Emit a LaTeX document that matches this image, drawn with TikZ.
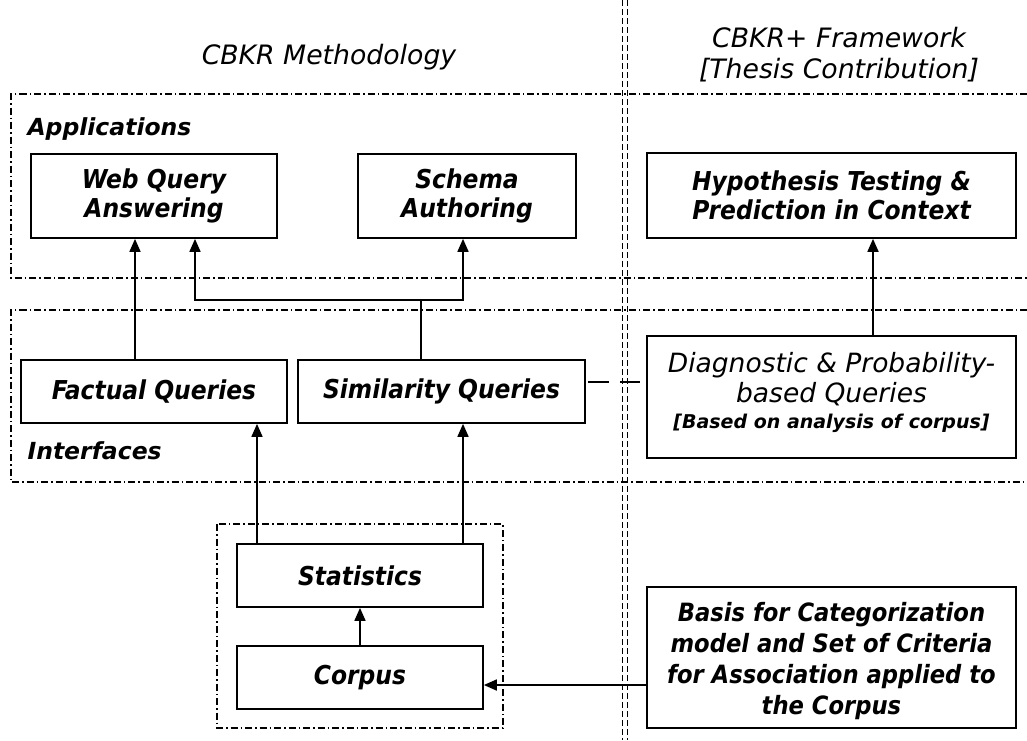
\documentclass[tikz,border=0pt]{standalone}
\usepackage{fontspec}
\setmainfont{DejaVu Sans}
\newfontfamily\condfont{DejaVu Sans Condensed}
\usetikzlibrary{arrows.meta}
\tikzset{
  box/.style={draw, line width=1.7pt, minimum width=#1, align=center, inner sep=0pt},
  boxtext/.style={font=\condfont\bfseries\itshape\fontsize{26}{29}\selectfont},
  region/.style={line width=1.3pt, dash pattern=on 7pt off 3pt on 1.5pt off 3pt},
  divider/.style={line width=1.6pt, dash pattern=on 6pt off 3pt},
  conn/.style={line width=1.7pt},
  arr/.style={conn, -{Triangle[length=13pt,width=11pt]}},
  title/.style={font=\itshape\fontsize{26.7}{31}\selectfont, align=center},
  lbl/.style={font=\bfseries\itshape\fontsize{23.5}{28}\selectfont, anchor=west},
  intext/.style={align=center, inner sep=0pt},
}
\begin{document}
\begin{tikzpicture}[x=1pt,y=-1pt]
\useasboundingbox (0,0) rectangle (1027,740);
% titles
\node[title] (t1) at (329,57) {CBKR Methodology};
\node[title] (t2) at (839,55) {CBKR+ Framework\\{}[Thesis Contribution]};
% divider
\draw[divider] (622.5,0) -- (622.5,740);
\draw[divider] (627.5,0) -- (627.5,740);
% regions
\draw[region] (1027,94) -- (11,94) -- (11,278) -- (1027,278);
\draw[region] (1027,310) -- (11,310) -- (11,482) -- (1027,482);
\draw[region] (217,524) rectangle (503,728);
\node[lbl] (apps) at (24,129) {Applications};
\node[lbl] (intf) at (24,451) {Interfaces};
% boxes
\node[box=246pt, minimum height=84pt, boxtext] (web) at (154,196) {Web Query\\Answering};
\node[box=218pt, minimum height=84pt, boxtext] (schema) at (467,196) {Schema\\Authoring};
\node[box=369pt, minimum height=85pt, boxtext] (hyp) at (831.5,195.5) {Hypothesis Testing \&\\Prediction in Context};
\node[box=266pt, minimum height=63pt, boxtext] (fact) at (154,391.5) {Factual Queries};
\node[box=287pt, minimum height=63pt, boxtext] (sim) at (441.5,391.5) {Similarity Queries};
\node[box=369pt, minimum height=122pt] (diag) at (831.5,397) {};
\node[intext, font=\itshape\fontsize{26.5}{30}\selectfont] (diagtxt) at (831.5,379) {Diagnostic \& Probability-\\based Queries};
\node[intext, font=\bfseries\itshape\fontsize{19}{22}\selectfont] (diagnote) at (831.5,423) {[Based on analysis of corpus]};
\node[box=246pt, minimum height=63pt, boxtext] (stats) at (360,575.5) {Statistics};
\node[box=246pt, minimum height=63pt, boxtext] (corpus) at (360,677.5) {Corpus};
\node[box=369pt, minimum height=141pt] (basis) at (831.5,657.5) {};
\node[intext, font=\condfont\bfseries\itshape\fontsize{25.2}{31}\selectfont] (basistxt) at (831.5,661) {Basis for Categorization\\model and Set of Criteria\\for Association applied to\\the Corpus};
% connectors
\coordinate (j1) at (421,300);
\draw[arr] (fact.north -| 135,0) -- (web.south -| 135,0);
\draw[conn] (sim.north -| j1) -- (j1);
\draw[arr] (j1) -| (schema.south -| 463,0);
\draw[arr] (j1) -| (web.south -| 195,0);
\draw[arr] (diag.north -| 873,0) -- (hyp.south -| 873,0);
\draw[conn, dash pattern=on 0pt off 2pt on 21pt off 11pt on 20pt off 8pt] (sim.east |- 0,382) -- (diag.west |- 0,382);
\draw[arr] (stats.north -| 257,0) -- (fact.south -| 257,0);
\draw[arr] (stats.north -| 463,0) -- (sim.south -| 463,0);
\draw[arr] (corpus) -- (stats);
\draw[arr] (basis.west |- 0,685) -- (corpus.east |- 0,685);
\end{tikzpicture}
\end{document}
